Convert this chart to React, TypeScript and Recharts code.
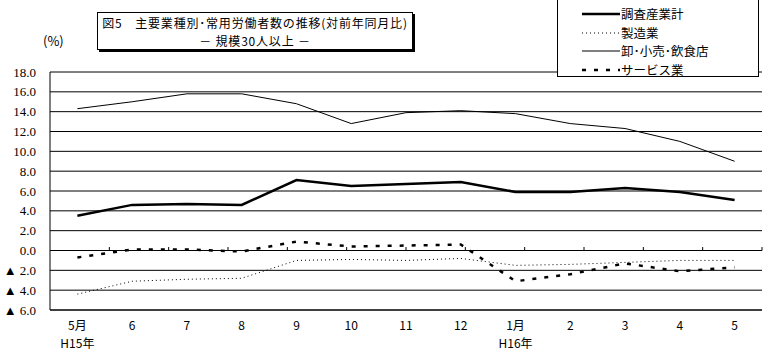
import { LineChart, Line, XAxis, YAxis, CartesianGrid, ReferenceLine } from 'recharts'

const months = ['5月', '6', '7', '8', '9', '10', '11', '12', '1月', '2', '3', '4', '5']
const years = ['H15年', '', '', '', '', '', '', '', 'H16年', '', '', '', '']

const seriesNames = ['調査産業計', '製造業', '卸･小売･飲食店', 'サービス業']
const total = [3.5, 4.6, 4.7, 4.6, 7.1, 6.5, 6.7, 6.9, 5.9, 5.9, 6.3, 5.9, 5.1]
const manufacturing = [-4.4, -3.1, -2.9, -2.8, -1.0, -0.9, -1.0, -0.8, -1.5, -1.4, -1.2, -1.0, -1.0]
const retail = [14.3, 15.0, 15.8, 15.8, 14.8, 12.8, 13.9, 14.1, 13.8, 12.8, 12.3, 11.0, 9.0]
const services = [-0.7, 0.1, 0.1, -0.1, 0.9, 0.4, 0.5, 0.6, -3.1, -2.4, -1.3, -2.1, -1.7]

const yTicks = [-6, -4, -2, 0, 2, 4, 6, 8, 10, 12, 14, 16, 18]
const boundaries = [1, 2, 3, 4, 5, 6, 7, 8, 9, 10, 11, 12]

const data = months.map((m, i) => ({
  m,
  total: total[i],
  manufacturing: manufacturing[i],
  retail: retail[i],
  services: services[i],
}))

const styles = [
  { key: 'total', width: 2.5, dash: undefined },
  { key: 'manufacturing', width: 1, dash: '1 3' },
  { key: 'retail', width: 1, dash: undefined },
  { key: 'services', width: 2.5, dash: '4 8' },
]

const jp = '"Noto Sans CJK JP", "Noto Sans", sans-serif'

function MonthTick({ x, y, payload, index }: any) {
  return (
    <g>
      <text x={x} y={y + 12} textAnchor="middle" fontSize={12} fontFamily={jp} fill="#000">
        {payload.value}
      </text>
      {years[index] && (
        <text x={x} y={y + 30} textAnchor="middle" fontSize={12} fontFamily={jp} fill="#000">
          {years[index]}
        </text>
      )}
    </g>
  )
}

const yFormat = (v: number) => (v < 0 ? `▲ ${Math.abs(v).toFixed(1)}` : v.toFixed(1))

export default function App() {
  return (
    <div style={{ position: 'absolute', left: 0, top: 0, width: 770, height: 360, background: '#fff' }}>
      <LineChart width={770} height={360} data={data} margin={{ top: 72, right: 8, bottom: 10, left: 0 }}>
        <CartesianGrid horizontal vertical={false} stroke="#000" strokeWidth={1} />
        <XAxis
          dataKey="m"
          scale="band"
          height={40}
          interval={0}
          tick={<MonthTick />}
          tickLine={false}
          axisLine={{ stroke: '#000' }}
        />
        <XAxis xAxisId="b" type="number" domain={[0, 13]} hide />
        <YAxis
          width={50}
          domain={[-6, 18]}
          ticks={yTicks}
          interval={0}
          tickFormatter={yFormat}
          tickLine={false}
          axisLine={{ stroke: '#000' }}
          tick={{ fontSize: 13, fill: '#000', fontFamily: '"Liberation Serif", "DejaVu Serif", serif' }}
          tickMargin={8}
        />
        <ReferenceLine y={0} stroke="#000" />
        {boundaries.map((b) => (
          <ReferenceLine
            key={b}
            xAxisId="b"
            segment={[{ x: b, y: 0 }, { x: b, y: 0.35 }]}
            stroke="#000"
          />
        ))}
        {styles.map((s, i) => (
          <Line
            key={s.key}
            name={seriesNames[i]}
            dataKey={s.key}
            stroke="#000"
            strokeWidth={s.width}
            strokeDasharray={s.dash}
            dot={false}
            isAnimationActive={false}
          />
        ))}
      </LineChart>

      <div style={{ position: 'absolute', left: 43, top: 31, fontSize: 13, fontFamily: jp }}>(%)</div>

      <div
        style={{
          position: 'absolute',
          left: 97,
          top: 12,
          width: 316,
          height: 38,
          border: '1px solid #000',
          boxShadow: '2px 2px 0 #000',
          background: '#fff',
          fontFamily: jp,
          fontSize: 12,
          lineHeight: '17.6px',
          letterSpacing: 0.8,
          textAlign: 'center',
          boxSizing: 'border-box',
          whiteSpace: 'nowrap',
          paddingTop: 1,
        }}
      >
        <div>図5　主要業種別･常用労働者数の推移(対前年同月比)</div>
        <div>－ 規模30人以上 －</div>
      </div>

      <div
        style={{
          position: 'absolute',
          left: 557,
          top: -1,
          width: 202,
          height: 78,
          border: '1px solid #000',
          background: '#fff',
          boxSizing: 'border-box',
          fontFamily: jp,
          fontSize: 12.5,
        }}
      >
        {styles.map((s, i) => (
          <div
            key={s.key}
            style={{ position: 'absolute', left: 24, top: 5 + i * 18.5, height: 18.5, display: 'flex', alignItems: 'center' }}
          >
            <svg width={38} height={6}>
              <line x1={0} y1={3} x2={38} y2={3} stroke="#000" strokeWidth={s.width} strokeDasharray={s.dash} />
            </svg>
            <span style={{ marginLeft: 1, lineHeight: '18.5px' }}>{seriesNames[i]}</span>
          </div>
        ))}
      </div>
    </div>
  )
}
